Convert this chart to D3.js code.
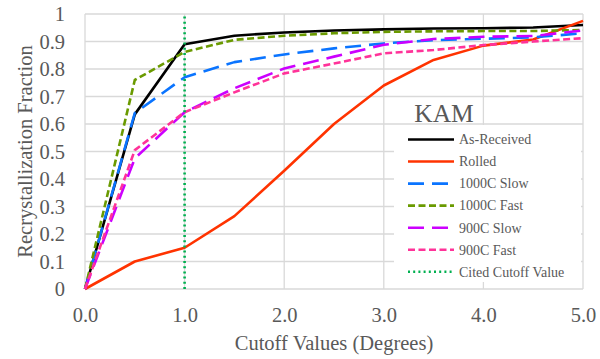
<!DOCTYPE html>
<html><head><meta charset="utf-8">
<script src="https://cdn.jsdelivr.net/npm/d3@7"></script>
<style>body{margin:0;background:#fff}svg{display:block}</style>
</head><body><svg id="c" width="600" height="359"></svg>
<script>
const xs = [0, 0.5, 1.0, 1.5, 2.0, 2.5, 3.0, 3.5, 4.0, 4.5, 5.0];
const asReceived = [0, 0.635, 0.89, 0.921, 0.933, 0.94, 0.944, 0.947, 0.948, 0.951, 0.96];
const rolled     = [0, 0.10, 0.15, 0.265, 0.43, 0.60, 0.74, 0.833, 0.885, 0.907, 0.975];
const c1000Slow  = [0, 0.64, 0.77, 0.825, 0.853, 0.875, 0.893, 0.905, 0.91, 0.915, 0.93];
const c1000Fast  = [0, 0.76, 0.862, 0.906, 0.921, 0.93, 0.935, 0.937, 0.938, 0.938, 0.942];
const c900Slow   = [0, 0.475, 0.643, 0.73, 0.802, 0.845, 0.888, 0.909, 0.917, 0.92, 0.94];
const c900Fast   = [0, 0.505, 0.643, 0.715, 0.784, 0.82, 0.857, 0.869, 0.887, 0.9, 0.912];
const citedCutoff = 1.0;
const seriesNames = ["As-Received","Rolled","1000C Slow","1000C Fast","900C Slow","900C Fast"];
const seriesVals = [asReceived, rolled, c1000Slow, c1000Fast, c900Slow, c900Fast];
const xTicks = [0,1,2,3,4,5];
const yTicks = [0,0.1,0.2,0.3,0.4,0.5,0.6,0.7,0.8,0.9,1];

const colors = ["#000000","#FF3300","#0A74FF","#6A9A00","#CC00FF","#FF3399","#00B050"];
const dashes = [null,null,"16,8","7,3.5","16,8","7,3.5","2,3.2"];
const FONT = '"Liberation Serif", "Times New Roman", serif';
const TXT = "#595959";

const svg = d3.select("#c");
const x = d3.scaleLinear().domain([0,5]).range([85,583]);
const y = d3.scaleLinear().domain([0,1]).range([289,14]);
const grid = "#d9d9d9";

// gridlines
svg.append("g").selectAll("line").data(yTicks).join("line")
  .attr("x1",x(0)).attr("x2",x(5)).attr("y1",d=>y(d)).attr("y2",d=>y(d))
  .attr("stroke",grid).attr("stroke-width",1.3);
svg.append("g").selectAll("line").data(xTicks).join("line")
  .attr("y1",y(0)).attr("y2",y(1)).attr("x1",d=>x(d)).attr("x2",d=>x(d))
  .attr("stroke",grid).attr("stroke-width",1.3);

// axes labels
const yAxis = d3.axisLeft(y).tickValues(yTicks).tickSize(0).tickPadding(20)
  .tickFormat(d=> d===0 ? "0" : d===1 ? "1" : d3.format(".1f")(d));
const ga = svg.append("g").attr("transform",`translate(${x(0)},0)`).call(yAxis);
ga.select(".domain").remove();
ga.selectAll("text").style("font-size","20.5px").style("fill",TXT).style("font-family",FONT);
const xAxis = d3.axisBottom(x).tickValues(xTicks).tickSize(0).tickPadding(18).tickFormat(d3.format(".1f"));
const gx = svg.append("g").attr("transform",`translate(0,${y(0)})`).call(xAxis);
gx.select(".domain").remove();
gx.selectAll("text").style("font-size","20.5px").style("fill",TXT).style("font-family",FONT);

// lines
const line = d3.line().x((d,i)=>x(xs[i])).y(d=>y(d));
seriesVals.forEach((vals,i)=>{
  svg.append("path").datum(vals).attr("d",line).attr("fill","none")
    .attr("stroke",colors[i]).attr("stroke-width",2.6)
    .attr("stroke-dasharray",dashes[i]).attr("stroke-linejoin","round");
});
svg.append("line").attr("x1",x(citedCutoff)).attr("x2",x(citedCutoff)).attr("y1",y(0)).attr("y2",y(1))
  .attr("stroke",colors[6]).attr("stroke-width",2.6).attr("stroke-dasharray",dashes[6]);

function txt(sel){ return sel.style("font-family",FONT).style("fill",TXT); }

// legend
txt(svg.append("text")).attr("x",444).attr("y",121.7).attr("text-anchor","middle").style("font-size","25.5px").text("KAM");
svg.append("rect").attr("x",394).attr("y",125).attr("width",187).attr("height",157).attr("fill","#fff");
const names = seriesNames.concat(["Cited Cutoff Value"]);
names.forEach((n,i)=>{
  const yy = 139.5 + i*22.05;
  svg.append("line").attr("x1",408).attr("x2",454).attr("y1",yy).attr("y2",yy)
    .attr("stroke",colors[i]).attr("stroke-width",2.6).attr("stroke-dasharray",dashes[i]);
  txt(svg.append("text")).attr("x",459).attr("y",yy+4.8).style("font-size","14px").text(n);
});

// titles
txt(svg.append("text")).attr("x",334).attr("y",350).attr("text-anchor","middle").style("font-size","20.5px").text("Cutoff Values (Degrees)");
txt(svg.append("text")).attr("transform",`translate(32,${(y(0)+y(1))/2}) rotate(-90)`).attr("text-anchor","middle").style("font-size","20.5px").text("Recrystallization Fraction");
</script></body></html>
